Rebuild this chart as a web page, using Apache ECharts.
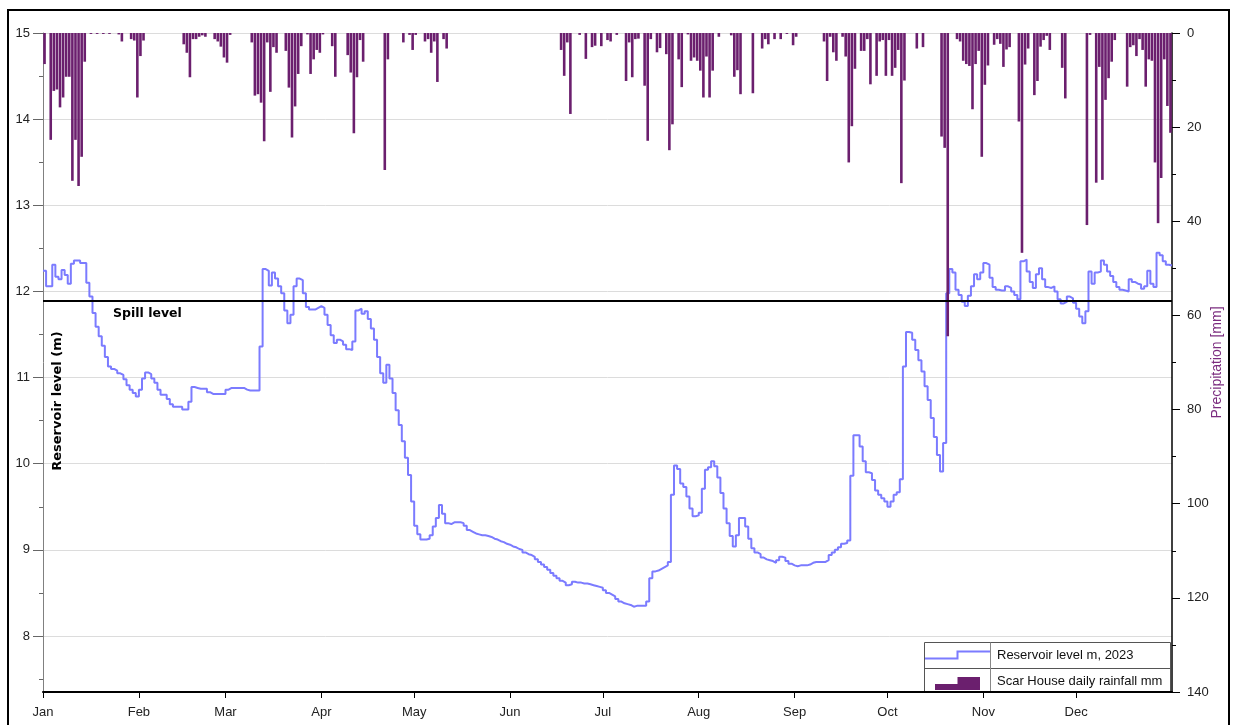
<!DOCTYPE html>
<html>
<head>
<meta charset="utf-8">
<script src="https://cdn.jsdelivr.net/npm/echarts@6/dist/echarts.min.js"></script>
<style>
  html, body { margin: 0; padding: 0; background: #fff; }
  #chart { width: 1233px; height: 725px; }
</style>
</head>
<body>
<div id="chart"></div>
<script>
// axis labels / ticks
const monthNames = ['Jan', 'Feb', 'Mar', 'Apr', 'May', 'Jun', 'Jul', 'Aug', 'Sep', 'Oct', 'Nov', 'Dec'];
const monthStarts = [0, 31, 59, 90, 120, 151, 181, 212, 243, 273, 304, 334];
const levelTicks = [8, 9, 10, 11, 12, 13, 14, 15];
const levelMinorTicks = [7.5, 8.5, 9.5, 10.5, 11.5, 12.5, 13.5, 14.5];
const spillLevel = 11.89;

// Scar House daily rainfall (mm), 2023, per month
const rainJan = [6.6, 0, 22.7, 12.3, 12.0, 15.8, 13.7, 9.3, 9.3, 31.4, 22.7, 32.5, 26.3, 6.1, 0, 0.2, 0, 0.2, 0, 0.2, 0, 0.2, 0, 0, 0.3, 1.8, 0, 0, 1.3, 1.6, 13.7];
const rainFeb = [4.9, 1.6, 0, 0, 0, 0, 0, 0, 0, 0, 0, 0, 0, 0, 2.4, 4.2, 9.4, 1.3, 1.3, 0.8, 0.5, 0.8, 0, 0, 1.3, 1.8, 2.9, 5.2];
const rainMar = [6.3, 0.4, 0, 0, 0, 0, 0, 0, 2.0, 13.3, 13.0, 14.8, 23.0, 2.0, 12.5, 3.0, 4.2, 0, 0, 3.8, 11.6, 22.2, 15.6, 8.7, 2.8, 0, 0.3, 8.7, 5.6, 3.6, 4.2];
const rainApr = [0.3, 0, 0, 2.8, 9.3, 0, 0, 0, 4.7, 8.4, 21.3, 9.4, 1.5, 6.1, 0, 0, 0, 0, 0, 0, 29.1, 5.6, 0, 0, 0, 0, 2.0, 0, 0.4, 3.6];
const rainMay = [0.4, 0, 0, 1.8, 1.3, 4.2, 1.8, 10.4, 0, 1.3, 3.3, 0, 0, 0, 0, 0, 0, 0, 0, 0, 0, 0, 0, 0, 0, 0, 0, 0, 0, 0, 0];
const rainJun = [0, 0, 0, 0, 0, 0, 0, 0, 0, 0, 0, 0, 0, 0, 0, 0, 3.6, 9.1, 2.0, 17.2, 0, 0, 0.4, 0, 5.5, 0, 3.0, 2.7, 0, 2.8];
const rainJul = [0, 1.5, 1.8, 0, 0.4, 0, 0, 10.2, 2.0, 9.4, 1.3, 1.2, 0, 11.2, 22.9, 1.3, 0, 4.1, 3.2, 0, 4.5, 24.9, 19.4, 0, 5.6, 11.5, 0, 0.3, 5.9, 5.2, 5.9];
const rainAug = [8.0, 13.7, 5.0, 13.7, 8.0, 0, 0.8, 0, 0, 0, 0.5, 9.3, 7.9, 13.0, 0, 0, 0, 12.8, 0, 0, 3.3, 1.3, 2.4, 0, 1.3, 0, 1.3, 0, 0.2, 0, 2.6];
const rainSep = [0.8, 0, 0, 0, 0, 0, 0, 0, 0, 1.8, 10.2, 0.8, 4.1, 5.9, 0, 0.8, 5.0, 27.5, 19.8, 7.6, 0, 3.8, 3.8, 1.3, 10.9, 0, 9.1, 1.8, 1.5, 9.1];
const rainOct = [1.5, 9.1, 7.4, 3.6, 31.9, 10.1, 0, 0, 0, 3.3, 0, 3.0, 0, 0, 0, 0, 0, 22.0, 24.4, 64.4, 0, 0, 1.3, 1.8, 5.9, 6.6, 7.0, 16.2, 6.6, 3.8, 26.3];
const rainNov = [11.0, 6.9, 0, 2.5, 1.3, 2.3, 7.2, 3.5, 3.0, 0, 0, 18.8, 46.7, 6.7, 3.3, 0, 13.2, 10.2, 2.9, 1.5, 0.6, 3.6, 0, 0, 0, 7.4, 13.9, 0, 0, 0];
const rainDec = [0, 0, 0, 40.8, 0.4, 0, 31.8, 7.2, 31.2, 14.2, 9.6, 6.1, 1.5, 0, 0, 0, 11.4, 3.0, 2.6, 4.9, 1.3, 3.6, 11.4, 5.6, 5.9, 27.5, 40.4, 30.8, 5.6, 15.5, 21.2];

// reservoir level (m), 2023, per month
const levelJan = [12.24, 12.06, 12.06, 12.31, 12.17, 12.14, 12.25, 12.19, 12.09, 12.32, 12.36, 12.36, 12.33, 12.33, 12.10, 11.94, 11.75, 11.59, 11.48, 11.37, 11.24, 11.13, 11.10, 11.08, 11.05, 11.03, 10.98, 10.91, 10.86, 10.82, 10.78];
const levelFeb = [10.86, 10.99, 11.06, 11.04, 10.99, 10.94, 10.86, 10.80, 10.80, 10.75, 10.69, 10.66, 10.66, 10.66, 10.63, 10.63, 10.72, 10.89, 10.88, 10.87, 10.87, 10.87, 10.83, 10.81, 10.81, 10.81, 10.81, 10.81];
const levelMar = [10.86, 10.88, 10.88, 10.88, 10.88, 10.88, 10.86, 10.85, 10.85, 10.85, 10.85, 11.36, 12.26, 12.24, 12.07, 12.22, 12.15, 12.06, 11.98, 11.78, 11.63, 11.73, 12.06, 12.15, 12.13, 11.98, 11.82, 11.79, 11.79, 11.81, 11.83];
const levelApr = [11.81, 11.73, 11.61, 11.49, 11.40, 11.44, 11.42, 11.38, 11.33, 11.32, 11.42, 11.78, 11.80, 11.74, 11.77, 11.68, 11.57, 11.44, 11.24, 11.05, 10.94, 11.15, 10.99, 10.82, 10.62, 10.45, 10.26, 10.07, 9.87, 9.56];
const levelMay = [9.28, 9.18, 9.12, 9.12, 9.13, 9.17, 9.27, 9.37, 9.52, 9.42, 9.31, 9.30, 9.32, 9.32, 9.32, 9.31, 9.28, 9.23, 9.21, 9.19, 9.18, 9.17, 9.17, 9.16, 9.15, 9.13, 9.12, 9.10, 9.09, 9.07, 9.06];
const levelJun = [9.04, 9.03, 9.01, 9.00, 8.97, 8.95, 8.94, 8.92, 8.89, 8.86, 8.83, 8.80, 8.77, 8.73, 8.70, 8.67, 8.64, 8.62, 8.59, 8.60, 8.63, 8.62, 8.62, 8.61, 8.61, 8.60, 8.59, 8.58, 8.57, 8.56];
const levelJul = [8.53, 8.50, 8.48, 8.46, 8.43, 8.40, 8.38, 8.37, 8.36, 8.34, 8.35, 8.35, 8.35, 8.35, 8.40, 8.67, 8.75, 8.76, 8.78, 8.80, 8.82, 8.86, 9.64, 9.98, 9.94, 9.77, 9.73, 9.62, 9.48, 9.39, 9.40];
const levelAug = [9.43, 9.71, 9.93, 9.96, 10.03, 9.97, 9.84, 9.66, 9.48, 9.31, 9.16, 9.04, 9.17, 9.37, 9.37, 9.27, 9.13, 9.02, 8.97, 8.95, 8.91, 8.89, 8.88, 8.87, 8.85, 8.88, 8.92, 8.91, 8.87, 8.84, 8.82];
const levelSep = [8.81, 8.82, 8.82, 8.82, 8.83, 8.85, 8.86, 8.86, 8.86, 8.86, 8.88, 8.94, 8.97, 9.00, 9.03, 9.07, 9.08, 9.11, 9.86, 10.33, 10.33, 10.20, 10.03, 9.90, 9.89, 9.81, 9.69, 9.64, 9.60, 9.56];
const levelOct = [9.50, 9.56, 9.64, 9.67, 9.82, 11.13, 11.53, 11.52, 11.44, 11.32, 11.20, 11.07, 10.90, 10.74, 10.53, 10.31, 10.10, 9.91, 10.24, 11.98, 12.26, 12.22, 12.02, 11.96, 11.88, 11.83, 11.95, 12.06, 12.20, 12.14, 12.22];
const levelNov = [12.33, 12.31, 12.16, 12.05, 12.02, 12.01, 12.01, 12.06, 12.04, 12.00, 11.96, 11.91, 12.35, 12.37, 12.23, 12.11, 12.04, 12.20, 12.27, 12.14, 12.05, 12.04, 12.06, 12.00, 11.91, 11.86, 11.88, 11.94, 11.92, 11.87];
const levelDec = [11.80, 11.71, 11.63, 11.77, 12.23, 12.09, 12.22, 12.23, 12.36, 12.31, 12.23, 12.18, 12.11, 12.05, 12.02, 12.01, 12.00, 12.14, 12.11, 12.09, 12.08, 12.03, 12.06, 12.24, 12.09, 12.05, 12.45, 12.42, 12.35, 12.31, 12.30];

const rain = [].concat(rainJan, rainFeb, rainMar, rainApr, rainMay, rainJun, rainJul, rainAug, rainSep, rainOct, rainNov, rainDec);
const level = [].concat(levelJan, levelFeb, levelMar, levelApr, levelMay, levelJun, levelJul, levelAug, levelSep, levelOct, levelNov, levelDec);

// day index as x; a day's level holds until the next day, rain drawn mid-day
const levelPoints = level.map((v, d) => [d, v]);
levelPoints.push([level.length, level[level.length - 1]]);
const rainPoints = rain.map((v, d) => [d + 0.5, v]);

const LINE_COLOR = '#7b7bff';
const BAR_COLOR = '#6b1f6e';
const FONT = '"Liberation Sans", Arial, sans-serif';

const chart = echarts.init(document.getElementById('chart'), null, {renderer: 'canvas'});

chart.setOption({
  animation: false,
  backgroundColor: '#fff',
  textStyle: {fontFamily: FONT},
  grid: {left: 43, right: 61, top: 33, bottom: 33, containLabel: false, outerBoundsMode: 'none'},
  xAxis: {
    type: 'value',
    min: 0,
    max: 365,
    axisLine: {onZero: false, lineStyle: {color: '#000', width: 2}},
    axisTick: {customValues: monthStarts, length: 6, lineStyle: {color: '#000'}},
    axisLabel: {
      customValues: monthStarts,
      formatter: v => monthNames[monthStarts.indexOf(v)],
      color: '#222', fontSize: 13, margin: 14, fontFamily: FONT
    },
    splitLine: {show: false}
  },
  yAxis: [
    {
      type: 'value',
      min: 7.35,
      max: 15,
      position: 'left',
      axisLine: {show: true, onZero: false, lineStyle: {color: '#808080', width: 1}},
      axisTick: {show: true, customValues: levelTicks, length: 10, lineStyle: {color: '#666'}},
      axisLabel: {customValues: levelTicks, color: '#222', fontSize: 13, margin: 13, fontFamily: FONT},
      splitLine: {show: true, lineStyle: {color: '#dcdcdc', width: 1}}
    },
    {
      type: 'value',
      min: 0,
      max: 140,
      interval: 20,
      inverse: true,
      position: 'right',
      name: 'Precipitation [mm]',
      nameLocation: 'middle',
      nameGap: 38,
      nameRotate: 90,
      nameMoveOverlap: false,
      nameTextStyle: {color: '#7b2c7f', fontSize: 14, fontFamily: FONT},
      axisLine: {show: true, onZero: false, lineStyle: {color: '#000', width: 1.5}},
      axisTick: {show: true, length: 8, lineStyle: {color: '#000'}},
      minorTick: {show: true, splitNumber: 2, length: 4, lineStyle: {color: '#000'}},
      axisLabel: {color: '#222', fontSize: 13, margin: 15, fontFamily: FONT},
      splitLine: {show: false}
    },
    {
      // half-metre ticks on the level axis
      type: 'value',
      min: 7.35,
      max: 15,
      position: 'left',
      axisLine: {show: false, onZero: false},
      axisTick: {show: true, customValues: levelMinorTicks, length: 4, lineStyle: {color: '#666'}},
      axisLabel: {show: false},
      splitLine: {show: false}
    }
  ],
  series: [
    {
      name: 'Reservoir level m, 2023',
      type: 'line',
      yAxisIndex: 0,
      step: 'end',
      symbol: 'none',
      data: levelPoints,
      lineStyle: {color: LINE_COLOR, width: 2},
      z: 2,
      markLine: {
        silent: true,
        symbol: 'none',
        label: {show: false},
        lineStyle: {color: '#000', width: 2, type: 'solid'},
        data: [{yAxis: spillLevel}]
      }
    },
    {
      name: 'Scar House daily rainfall mm',
      type: 'bar',
      yAxisIndex: 1,
      barWidth: 2.6,
      data: rainPoints,
      itemStyle: {color: BAR_COLOR},
      z: 3
    }
  ],
  graphic: [
    {
      type: 'rect', silent: true, z: 100,
      shape: {x: 8, y: 10, width: 1221, height: 740},
      style: {fill: 'none', stroke: '#000', lineWidth: 2}
    },
    {
      type: 'text', silent: true, z: 50, x: 113, y: 314,
      style: {text: 'Spill level', font: 'bold 12.5px "DejaVu Sans"', fill: '#000', verticalAlign: 'middle'}
    },
    {
      type: 'text', silent: true, z: 50, x: 57.5, y: 401, rotation: Math.PI / 2,
      style: {text: 'Reservoir level (m)', font: 'bold 13px "DejaVu Sans"', fill: '#000', align: 'center', verticalAlign: 'middle'}
    },
    {
      // legend table
      type: 'group', silent: true, z: 60,
      children: [
        {type: 'rect', shape: {x: 924.5, y: 642.5, width: 246, height: 50}, style: {fill: '#fff', stroke: '#555', lineWidth: 1}},
        {type: 'line', shape: {x1: 924.5, y1: 668.5, x2: 1170.5, y2: 668.5}, style: {stroke: '#555', lineWidth: 1}},
        {type: 'line', shape: {x1: 990.5, y1: 642.5, x2: 990.5, y2: 692.5}, style: {stroke: '#888', lineWidth: 1}},
        {type: 'polyline', shape: {points: [[925, 658.5], [957.5, 658.5], [957.5, 651.5], [990, 651.5]]}, style: {stroke: LINE_COLOR, lineWidth: 2, fill: 'none'}},
        {type: 'polygon', shape: {points: [[935, 684], [957.5, 684], [957.5, 677], [980, 677], [980, 690], [935, 690]]}, style: {fill: BAR_COLOR}},
        {type: 'text', x: 997, y: 655.5, style: {text: 'Reservoir level m, 2023', font: '13px ' + FONT, fill: '#111', verticalAlign: 'middle'}},
        {type: 'text', x: 997, y: 681, style: {text: 'Scar House daily rainfall mm', font: '13px ' + FONT, fill: '#111', verticalAlign: 'middle'}}
      ]
    }
  ]
});
</script>
</body>
</html>
